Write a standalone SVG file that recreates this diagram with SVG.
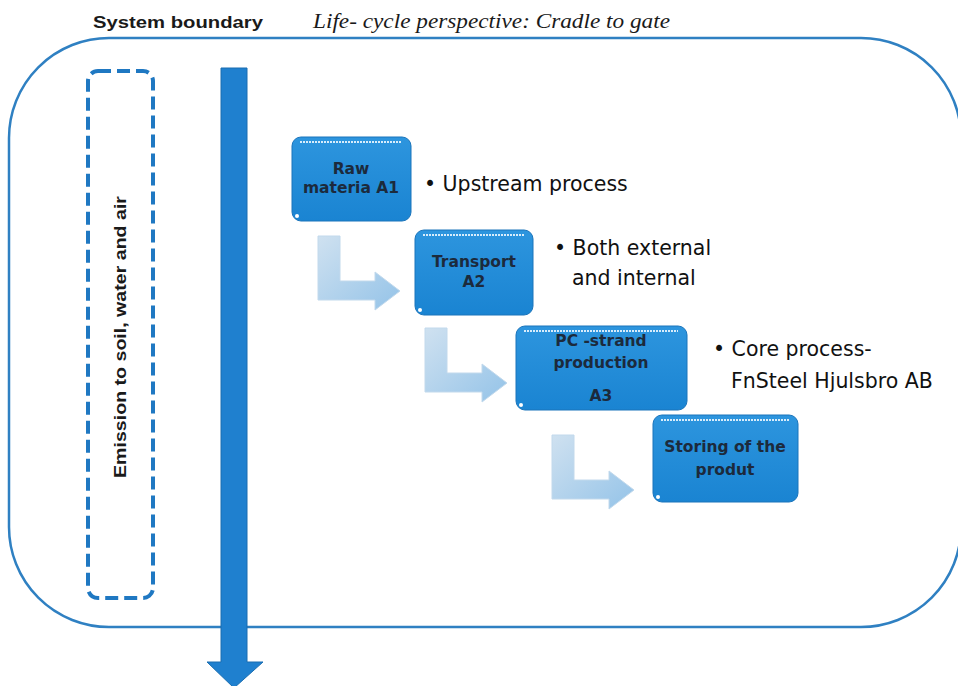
<svg xmlns="http://www.w3.org/2000/svg" width="958" height="686" viewBox="0 0 958 686">
  <style>
    .boundary { fill: none; stroke: #2f80c2; stroke-width: 2.5; }
    .emission { fill: none; stroke: #1f78c2; stroke-width: 4; stroke-dasharray: 13 6; }
    .box { fill: url(#boxFill); stroke: #1a74bb; stroke-width: 1; }
    .shine { stroke: #d7ecfb; stroke-width: 2; stroke-dasharray: 2 1; }
    .dot { fill: #ffffff; }
    .lbl { font-family: "DejaVu Sans", Verdana, sans-serif; font-weight: bold; font-size: 15.5px; fill: #1c2a3c; text-anchor: middle; }
    .note { font-family: "DejaVu Sans", Verdana, sans-serif; font-size: 20.5px; fill: #111111; }
    .bend { fill: url(#bendFill); stroke: #c2d9ec; stroke-width: 1; }
    .title { font-family: "Liberation Sans", Arial, sans-serif; font-weight: bold; font-size: 17px; fill: #1a1a1a; }
    .persp { font-family: "Liberation Serif", "Times New Roman", serif; font-style: italic; font-size: 20px; fill: #1a1a1a; }
  </style>
  <defs>
    <linearGradient id="boxFill" x1="0" y1="0" x2="0" y2="1">
      <stop offset="0" stop-color="#2d95de"/>
      <stop offset="1" stop-color="#1a84d2"/>
    </linearGradient>
    <linearGradient id="bendFill" x1="0" y1="0" x2="1" y2="1">
      <stop offset="0" stop-color="#cfe1f0"/>
      <stop offset="1" stop-color="#94c3e8"/>
    </linearGradient>
    <!-- bent "next step" arrow, origin at top-left of its vertical bar -->
    <path id="bend" d="M0,0 H22 V45 H57 V36 L82,55 L57,74 V64 H0 Z"/>
  </defs>

  <rect width="958" height="686" fill="#ffffff"/>

  <!-- headings -->
  <text class="title" x="93" y="28" textLength="170" lengthAdjust="spacingAndGlyphs">System boundary</text>
  <text class="persp" x="313" y="28" textLength="357" lengthAdjust="spacingAndGlyphs">Life- cycle perspective: Cradle to gate</text>

  <!-- system boundary -->
  <rect id="system-boundary" class="boundary" x="9" y="38" width="952" height="589" rx="100" ry="100"/>

  <!-- emissions box -->
  <g id="emissions">
    <rect class="emission" x="88" y="71" width="65" height="527" rx="10" ry="10"/>
    <text class="title" transform="translate(126,337) rotate(-90)" text-anchor="middle" textLength="282" lengthAdjust="spacingAndGlyphs">Emission to soil, water and air</text>
  </g>

  <!-- life-cycle time arrow -->
  <g id="time-arrow">
    <path d="M221,68 H247 V662 H263 L234,688 L207,662 H221 Z" fill="#1f80cf" stroke="#1a6db0" stroke-width="1"/>
  </g>

  <!-- connectors between stages -->
  <g id="connectors">
    <use href="#bend" class="bend" x="318" y="236"/>
    <use href="#bend" class="bend" x="425" y="328"/>
    <use href="#bend" class="bend" x="552" y="435"/>
  </g>

  <!-- stage A1 -->
  <g id="raw-materia">
    <rect class="box" x="292" y="137" width="119" height="84" rx="9" ry="9"/>
    <line class="shine" x1="300" y1="142" x2="402" y2="142"/>
    <circle class="dot" cx="297" cy="216" r="2"/>
    <text class="lbl" x="351" y="174">Raw</text>
    <text class="lbl" x="351" y="193">materia A1</text>
  </g>
  <g id="note-a1">
    <text class="note" x="424" y="191">• Upstream process</text>
  </g>

  <!-- stage A2 -->
  <g id="transport">
    <rect class="box" x="415" y="230" width="118" height="85" rx="9" ry="9"/>
    <line class="shine" x1="423" y1="235" x2="524" y2="235"/>
    <circle class="dot" cx="420" cy="310" r="2"/>
    <text class="lbl" x="474" y="267">Transport</text>
    <text class="lbl" x="474" y="287">A2</text>
  </g>
  <g id="note-a2">
    <text class="note" x="554" y="255">• Both external</text>
    <text class="note" x="572" y="285">and internal</text>
  </g>

  <!-- stage A3 -->
  <g id="pc-strand">
    <rect class="box" x="516" y="326" width="171" height="84" rx="9" ry="9"/>
    <line class="shine" x1="524" y1="331" x2="678" y2="331"/>
    <circle class="dot" cx="521" cy="405" r="2"/>
    <text class="lbl" x="601" y="346">PC -strand</text>
    <text class="lbl" x="601" y="368">production</text>
    <text class="lbl" x="601" y="401">A3</text>
  </g>
  <g id="note-a3">
    <text class="note" x="713" y="356">• Core process-</text>
    <text class="note" x="731" y="388">FnSteel Hjulsbro AB</text>
  </g>

  <!-- storage -->
  <g id="storing">
    <rect class="box" x="653" y="415" width="145" height="87" rx="9" ry="9"/>
    <line class="shine" x1="661" y1="420" x2="790" y2="420"/>
    <circle class="dot" cx="658" cy="497" r="2"/>
    <text class="lbl" x="725" y="452">Storing of the</text>
    <text class="lbl" x="725" y="475">produt</text>
  </g>
</svg>
